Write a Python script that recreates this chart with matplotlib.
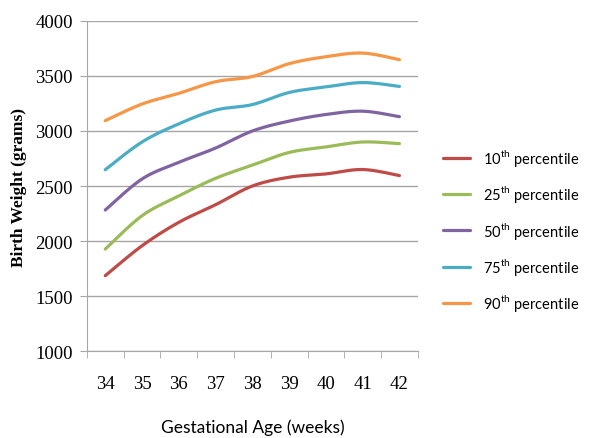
import numpy as np
import matplotlib
matplotlib.use("Agg")
import matplotlib.pyplot as plt

# birth weight percentiles by gestational age
weeks = [34, 35, 36, 37, 38, 39, 40, 41, 42]
p10 = [1685, 1957, 2170, 2330, 2500, 2580, 2610, 2650, 2595]
p25 = [1927, 2230, 2410, 2570, 2690, 2805, 2855, 2900, 2885]
p50 = [2282, 2564, 2715, 2845, 3000, 3090, 3150, 3180, 3130]
p75 = [2648, 2900, 3065, 3190, 3240, 3350, 3400, 3440, 3405]
p90 = [3094, 3245, 3342, 3448, 3495, 3612, 3675, 3708, 3648]

series_labels = ["10", "25", "50", "75", "90"]
colors = ["#BE4B48", "#9BBB59", "#8064A2", "#4BACC6", "#F79646"]


def smooth(x, y, n=30):
    # Catmull-Rom style bezier through every point
    x = np.asarray(x, float)
    y = np.asarray(y, float)
    px = np.concatenate([[x[0]], x, [x[-1]]])
    py = np.concatenate([[y[0]], y, [y[-1]]])
    t = np.linspace(0, 1, n)[:, None]
    xs, ys = [], []
    for i in range(1, len(x)):
        p0 = np.array([px[i - 1], py[i - 1]])
        p1 = np.array([px[i], py[i]])
        p2 = np.array([px[i + 1], py[i + 1]])
        p3 = np.array([px[i + 2], py[i + 2]])
        c1 = p1 + (p2 - p0) / 6
        c2 = p2 - (p3 - p1) / 6
        b = ((1 - t) ** 3) * p1 + 3 * ((1 - t) ** 2) * t * c1 + 3 * (1 - t) * t ** 2 * c2 + t ** 3 * p2
        xs.append(b[:, 0])
        ys.append(b[:, 1])
    return np.concatenate(xs), np.concatenate(ys)


plt.rcParams["mathtext.fontset"] = "custom"
plt.rcParams["mathtext.rm"] = "Lato"

fig = plt.figure(figsize=(5.91, 4.39), dpi=100)
ax = fig.add_axes([0.147, 0.198, 0.560, 0.752])

pos = np.arange(len(weeks))
lines = []
for vals, lab, c in zip([p10, p25, p50, p75, p90], series_labels, colors):
    sx, sy = smooth(pos, vals)
    ln, = ax.plot(sx, sy, color=c, lw=2.3, solid_capstyle="round",
                  label=lab + r"$^{\mathrm{th}}$ percentile")
    lines.append(ln)

ax.set_xlim(-0.5, len(weeks) - 0.5)
ax.set_ylim(1000, 4000)
ax.set_yticks(np.arange(1000, 4001, 500))
ax.yaxis.grid(True, color="#A6A6A6", lw=1)
ax.set_axisbelow(True)

ax.set_xticks(pos)
ax.set_xticklabels([str(w) for w in weeks])
ax.set_xticks(np.arange(-0.5, len(weeks)), minor=True)
ax.tick_params(axis="x", which="major", length=0, pad=17)
ax.tick_params(axis="x", which="minor", length=5, color="#A6A6A6")
ax.tick_params(axis="y", length=5, color="#A6A6A6", pad=5)
for lab in ax.get_xticklabels() + ax.get_yticklabels():
    lab.set_fontfamily("Liberation Serif")
    lab.set_fontsize(13.5)

for s in ["top", "right"]:
    ax.spines[s].set_visible(False)
for s in ["left", "bottom"]:
    ax.spines[s].set_color("#A6A6A6")

ax.set_ylabel("Birth Weight (grams)", fontfamily="Liberation Serif",
              fontweight="bold", fontsize=12.5, labelpad=6)
ax.set_xlabel("Gestational Age (weeks)", fontfamily="Lato",
              fontsize=12.5, labelpad=19)

fig.legend(handles=lines, loc="upper left", bbox_to_anchor=(0.727, 0.693),
           frameon=False, prop={"family": "Lato", "size": 10.5},
           handlelength=1.85, handletextpad=0.9, labelspacing=1.05)

fig.savefig("out.png", dpi=100)
